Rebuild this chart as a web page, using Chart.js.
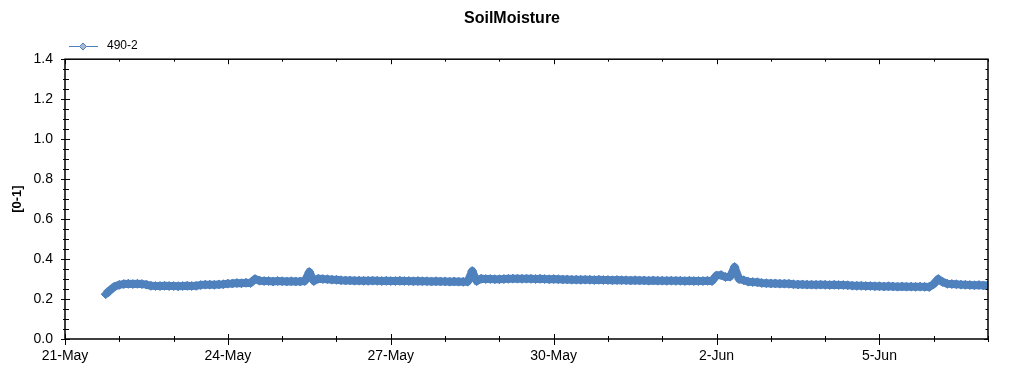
<!DOCTYPE html>
<html>
<head>
<meta charset="utf-8">
<title>SoilMoisture</title>
<script src="https://cdn.jsdelivr.net/npm/chart.js@4.4.6/dist/chart.umd.min.js"></script>
<style>
  html, body { margin: 0; padding: 0; background: #fff; }
  #wrap { width: 1024px; height: 375px; }
</style>
</head>
<body>
<div id="wrap"><canvas id="canvasSoil" width="1024" height="375"></canvas></div>
<script>
// sensor 490-2, one reading every 2 hours starting 21-May 18:00
const seriesName = '490-2';
const startHour = 18;
const stepHours = 2;
const soilValues = [
  0.224, 0.245, 0.263, 0.271, 0.275, 0.276, 0.275, 0.276, 0.275, 0.272,
  0.266, 0.265, 0.265, 0.266, 0.265, 0.265, 0.264, 0.265, 0.266, 0.265, 0.266,
  0.270, 0.272, 0.272, 0.271, 0.273, 0.274,
  0.277, 0.278, 0.280, 0.279, 0.281, 0.280,
  0.300,
  0.292, 0.290, 0.290, 0.288, 0.290, 0.289, 0.288, 0.289, 0.288, 0.288, 0.290,
  0.335, 0.290,
  0.302, 0.300, 0.299, 0.297, 0.296,
  0.294, 0.293, 0.293, 0.292, 0.292, 0.291, 0.291, 0.292, 0.291, 0.290,
  0.291, 0.290, 0.290, 0.291, 0.290, 0.290, 0.289, 0.290, 0.289, 0.289,
  0.288, 0.289, 0.288, 0.288, 0.287, 0.288, 0.287, 0.286, 0.287,
  0.340, 0.290,
  0.302, 0.300, 0.300, 0.299, 0.299, 0.300, 0.301, 0.302, 0.302, 0.301,
  0.302, 0.301, 0.300, 0.301, 0.300, 0.299, 0.300, 0.299, 0.298,
  0.298, 0.297, 0.297, 0.296, 0.297, 0.296, 0.295, 0.296, 0.295, 0.295,
  0.294, 0.295, 0.294, 0.294, 0.293, 0.294, 0.293, 0.293, 0.292, 0.293,
  0.292, 0.292, 0.291, 0.292, 0.291, 0.291, 0.290, 0.291, 0.290, 0.290,
  0.290, 0.291, 0.290,
  0.318, 0.320, 0.310, 0.312, 0.360, 0.300, 0.294,
  0.287, 0.285, 0.284,
  0.280, 0.279, 0.278, 0.278, 0.277, 0.277, 0.276,
  0.274, 0.273, 0.273, 0.272, 0.272, 0.271, 0.272, 0.271, 0.270, 0.271, 0.270, 0.270, 0.269,
  0.267, 0.266, 0.266, 0.265, 0.265, 0.264, 0.264, 0.263, 0.264, 0.263,
  0.262, 0.263, 0.262, 0.262, 0.261, 0.262, 0.261, 0.260,
  0.275, 0.300, 0.285,
  0.276, 0.275, 0.274, 0.272, 0.271, 0.270, 0.269, 0.270, 0.268, 0.269
];
const xLabels = ['21-May', '24-May', '27-May', '30-May', '2-Jun', '5-Jun'];
const xMaxDays = 17;
const yMax = 1.4;

const points = soilValues.map((v, i) => ({ x: (startHour + i * stepHours) / 24, y: v }));

const blue = '#4f81bd';
Chart.defaults.font.family = "'Liberation Sans', Arial, sans-serif";
Chart.defaults.color = '#000';

// frame, tick marks and small legend (line + diamond)
const frameTicks = {
  id: 'frameTicks',
  afterDraw(chart) {
    const { ctx, chartArea: a, scales } = chart;
    ctx.save();
    ctx.strokeStyle = '#000';
    ctx.lineWidth = 1.5;
    ctx.strokeRect(a.left, a.top, a.right - a.left, a.bottom - a.top);

    ctx.lineWidth = 1;
    ctx.beginPath();
    scales.x.ticks.forEach(t => {
      const px = Math.round(scales.x.getPixelForValue(t.value)) + 0.5;
      const major = t.value % 3 === 0;
      ctx.moveTo(px, a.bottom - (major ? 5 : 3));
      ctx.lineTo(px, a.bottom + (major ? 6 : 3));
      ctx.moveTo(px, a.top);
      ctx.lineTo(px, a.top + (major ? 5 : 2.5));
    });
    scales.y.ticks.forEach(t => {
      const py = Math.round(scales.y.getPixelForValue(t.value)) + 0.5;
      const major = Math.round(t.value * 100) % 20 === 0;
      ctx.moveTo(a.left - (major ? 4 : 2), py);
      ctx.lineTo(a.left + (major ? 5 : 4), py);
      ctx.moveTo(a.right, py);
      ctx.lineTo(a.right - (major ? 4 : 2.5), py);
    });
    ctx.stroke();

    // legend
    ctx.strokeStyle = blue;
    ctx.beginPath();
    ctx.moveTo(69, 46.5);
    ctx.lineTo(98, 46.5);
    ctx.stroke();
    ctx.beginPath();
    ctx.moveTo(83, 43);
    ctx.lineTo(86.5, 46.5);
    ctx.lineTo(83, 50);
    ctx.lineTo(79.5, 46.5);
    ctx.closePath();
    ctx.fillStyle = '#a5b9d1';
    ctx.fill();
    ctx.stroke();
    ctx.fillStyle = '#000';
    ctx.font = "12px 'Liberation Sans', Arial, sans-serif";
    ctx.textBaseline = 'middle';
    ctx.fillText(seriesName, 107, 46);
    ctx.restore();
  }
};

new Chart(document.getElementById('canvasSoil'), {
  type: 'line',
  data: {
    datasets: [{
      label: seriesName,
      data: points,
      borderColor: blue,
      borderWidth: 8,
      borderJoinStyle: 'round',
      borderCapStyle: 'butt',
      backgroundColor: blue,
      pointStyle: 'rectRot',
      pointRadius: 4.5,
      pointBorderWidth: 1,
      pointBackgroundColor: blue,
      pointBorderColor: blue,
      tension: 0
    }]
  },
  options: {
    responsive: false,
    animation: false,
    devicePixelRatio: 1,
    layout: { padding: 0 },
    plugins: {
      legend: { display: false },
      tooltip: { enabled: false },
      title: {
        display: true,
        text: 'SoilMoisture',
        color: '#000',
        font: { size: 16, weight: 'bold' },
        padding: { top: 9, bottom: 31 }
      }
    },
    scales: {
      x: {
        type: 'linear',
        min: 0,
        max: xMaxDays,
        grid: { display: false, drawTicks: false },
        border: { display: false },
        ticks: {
          stepSize: 1,
          autoSkip: false,
          maxRotation: 0,
          padding: 9,
          font: { size: 14 },
          callback: v => (v % 3 === 0 ? xLabels[v / 3] : '')
        },
        afterFit(scale) { scale.height = 36; }
      },
      y: {
        min: 0,
        max: yMax,
        grid: { display: false, drawTicks: false },
        border: { display: false },
        title: {
          display: true,
          text: '[0-1]',
          font: { size: 13, weight: 'bold' },
          padding: { top: 10, bottom: 0 }
        },
        ticks: {
          stepSize: 0.05,
          autoSkip: false,
          padding: 12,
          font: { size: 14 },
          callback: v => (Math.round(v * 100) % 20 === 0 ? v.toFixed(1) : '')
        },
        afterFit(scale) { scale.width = 65; }
      },
      // empty right axis, only keeps the right margin so the title stays centred on the page
      yRight: {
        position: 'right',
        min: 0,
        max: yMax,
        grid: { display: false, drawTicks: false },
        border: { display: false },
        ticks: { display: false },
        afterFit(scale) { scale.width = 36; }
      }
    }
  },
  plugins: [frameTicks]
});
</script>
</body>
</html>
